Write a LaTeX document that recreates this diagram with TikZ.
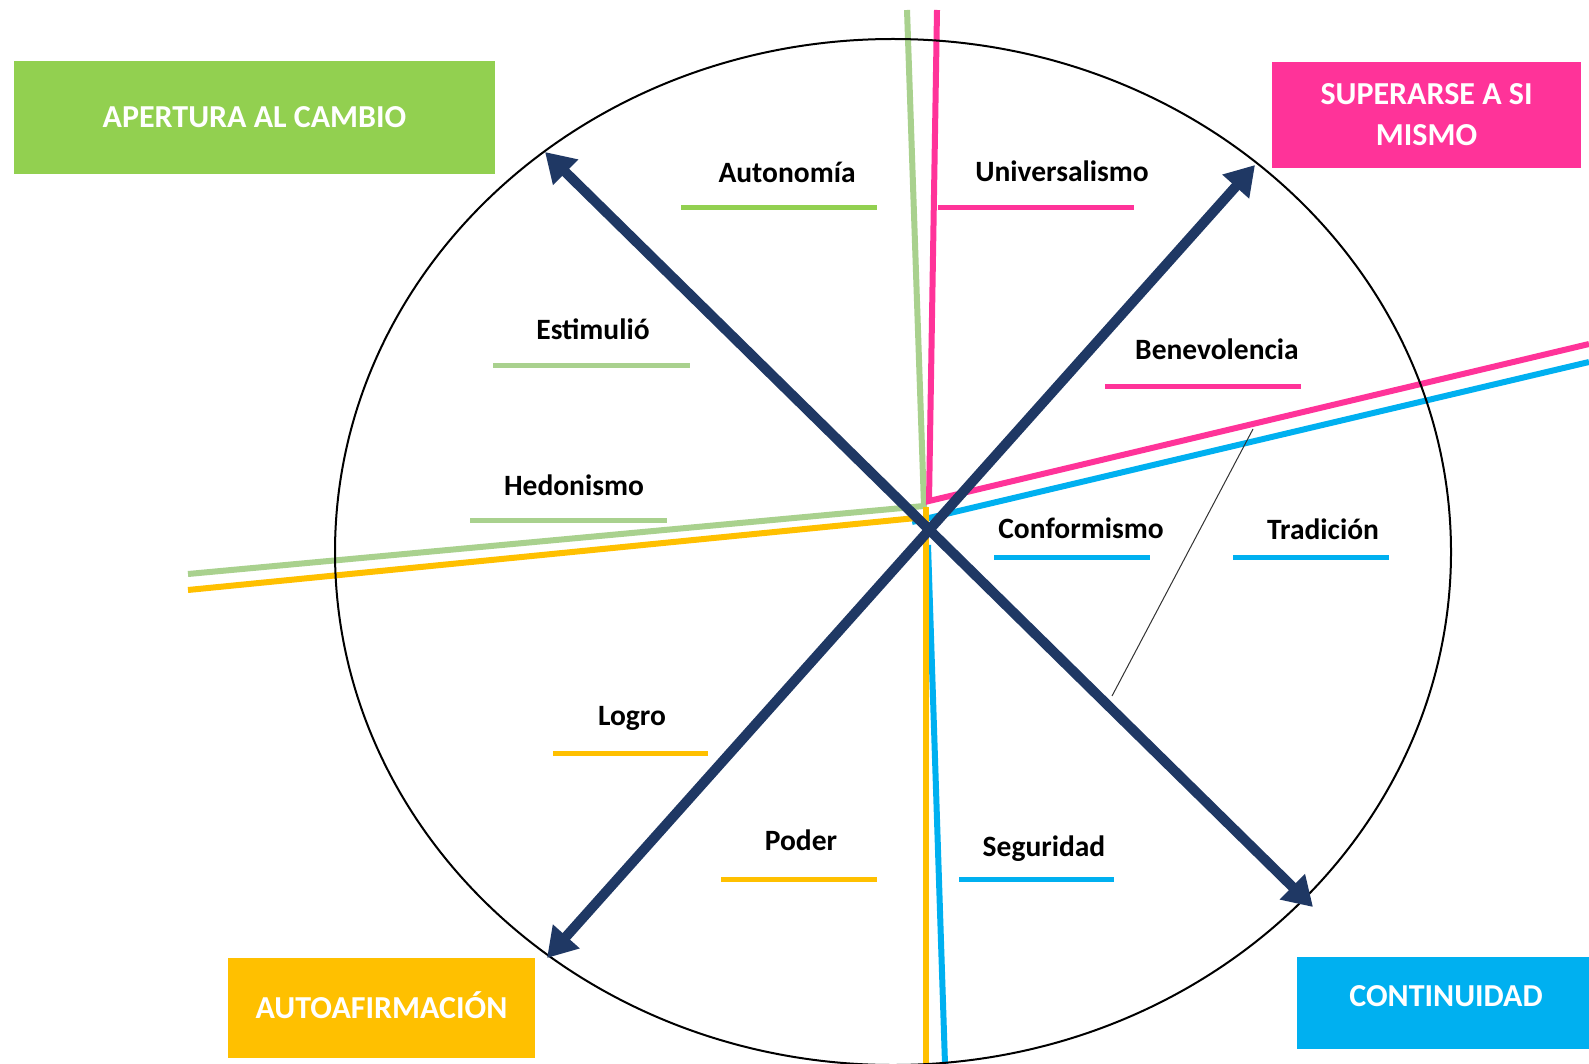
\documentclass[tikz,border=0pt]{standalone}
\usepackage{fontspec}
\setmainfont{Carlito}
\usetikzlibrary{arrows.meta}
\definecolor{navy}{HTML}{1F3864}
\definecolor{leafgreen}{HTML}{92D050}
\definecolor{sage}{HTML}{A9D18E}
\definecolor{rose}{HTML}{FF3399}
\definecolor{sky}{HTML}{00B0F0}
\definecolor{amber}{HTML}{FFC000}
\begin{document}
\begin{tikzpicture}[x=1pt,y=-1pt,
    box/.style={fill=#1,text=white,font=\bfseries\fontsize{32}{41}\selectfont,inner sep=0pt,align=center},
    lbl/.style={font=\bfseries\fontsize{29.5}{34}\selectfont,anchor=base,inner sep=0pt},
    uline/.style={draw=#1,line width=5pt},
    band/.style={draw=#1,line width=6pt},
    axis/.style={draw=navy,line width=10pt,{Triangle[length=29pt,width=34pt]}-{Triangle[length=29pt,width=34pt]}}]
  \fill[white] (0,0) rectangle (1589,1064);
  \useasboundingbox (0,0) rectangle (1589,1064);
  % band end points
  \coordinate (gtop) at (907,10);  \coordinate (gmid) at (924,506);  \coordinate (gleft) at (188,574);
  \coordinate (ptop) at (937,10);  \coordinate (pmid) at (929,501);  \coordinate (pright) at (1589,344);
  \coordinate (bright) at (1589,362); \coordinate (bmid) at (912,522);
  \coordinate (btop) at (928,545); \coordinate (bbot) at (945,1064);
  \coordinate (yleft) at (188,590); \coordinate (ymid) at (916,518);
  \coordinate (ytop) at (926,507); \coordinate (ybot) at (926,1064);
  \draw[band=sage] (gtop) -- (gmid) -- (gleft);
  \draw[band=rose] (ptop) -- (pmid) -- (pright);
  \draw[band=sky] (bright) -- (bmid);
  \draw[band=sky] (btop) -- (bbot);
  \draw[band=amber] (yleft) -- (ymid);
  \draw[band=amber] (ytop) -- (ybot);
  % wheel
  \draw[line width=2pt] (893,552) ellipse [x radius=558pt, y radius=513pt];
  \coordinate (tick1) at (1253,429); \coordinate (tick2) at (1112,696);
  \draw[black!80,line width=1pt] (tick1) -- (tick2);
  % axes
  \coordinate (nw) at (545,152); \coordinate (se) at (1313,907);
  \coordinate (sw) at (547,958); \coordinate (ne) at (1255,165);
  \draw[axis] (nw) -- (se);
  \draw[axis] (sw) -- (ne);
  % values
  \node[lbl] (auto) at (787,183) {Autonomía};
  \draw[uline=leafgreen] (681,208) -- (877,208);
  \node[lbl] (univ) at (1062,182) {Universalismo};
  \draw[uline=rose] (938,208) -- (1134,208);
  \node[lbl] (esti) at (593,340) {Estimulió};
  \draw[uline=sage] (493,365) -- (690,365);
  \node[lbl] (bene) at (1217,359) {Benevolencia};
  \draw[uline=rose] (1105,386) -- (1301,386);
  \node[lbl] (hedo) at (574,495) {Hedonismo};
  \draw[uline=sage] (470,520) -- (667,520);
  \node[lbl] (conf) at (1081,538) {Conformismo};
  \draw[uline=sky] (994,557) -- (1150,557);
  \node[lbl] (trad) at (1323,539) {Tradición};
  \draw[uline=sky] (1233,557) -- (1389,557);
  \node[lbl] (logr) at (632,725) {Logro};
  \draw[uline=amber] (553,753) -- (708,753);
  \node[lbl] (pode) at (801,850) {Poder};
  \draw[uline=amber] (721,879) -- (877,879);
  \node[lbl] (segu) at (1044,856) {Seguridad};
  \draw[uline=sky] (959,879) -- (1114,879);
  % groups
  \node[box=leafgreen,minimum width=481pt,minimum height=113pt] (apertura) at (254.5,117.5) {APERTURA AL CAMBIO};
  \node[box=rose,minimum width=309pt,minimum height=106pt] (superarse) at (1426.5,115) {SUPERARSE A SI\\MISMO};
  \node[box=amber,minimum width=307pt,minimum height=100pt,text depth=6pt] (autoaf) at (381.5,1008) {AUTOAFIRMACIÓN};
  \node[box=sky,minimum width=298pt,minimum height=92pt,text depth=14pt] (continuidad) at (1446,1003) {CONTINUIDAD};
\end{tikzpicture}
\end{document}
